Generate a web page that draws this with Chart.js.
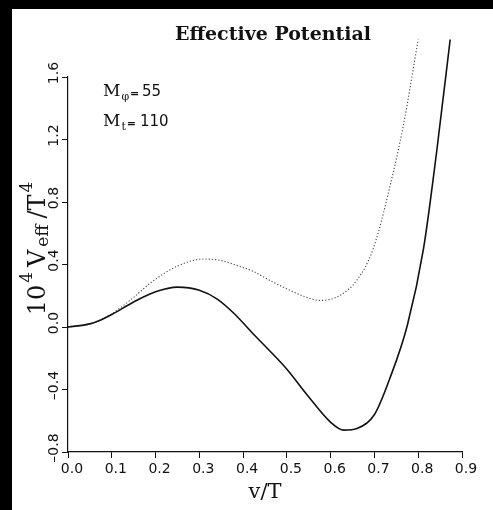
<!DOCTYPE html>
<html>
<head>
  <meta charset="utf-8">
  <title>Effective Potential</title>
  <script src="https://cdn.jsdelivr.net/npm/chart.js@4.4.0/dist/chart.umd.min.js"></script>
  <style>
    html, body { margin:0; padding:0; background:#000; width:493px; height:510px; overflow:hidden; }
    #ctn { position:absolute; left:12px; top:9px; width:481px; height:501px; background:#fff; }
  </style>
</head>
<body>
  <div id="ctn"><canvas id="chartEl"></canvas></div>

  <script>
    // v/T and 10^4 V_eff / T^4
    let solidX = [0, 0.05, 0.075, 0.1, 0.15, 0.2, 0.25, 0.3, 0.34, 0.38, 0.42, 0.46, 0.5, 0.545, 0.6, 0.63, 0.66, 0.7, 0.735, 0.775, 0.812, 0.842, 0.873];
    let solidY = [0, 0.02, 0.045, 0.08, 0.16, 0.225, 0.255, 0.235, 0.18, 0.085, -0.035, -0.15, -0.27, -0.43, -0.61, -0.66, -0.65, -0.56, -0.33, 0.01, 0.5, 1.12, 1.84];

    let dottedX = [0, 0.05, 0.1, 0.15, 0.19, 0.25, 0.31, 0.35, 0.39, 0.42, 0.47, 0.545, 0.576, 0.62, 0.66, 0.697, 0.743, 0.766, 0.8];
    let dottedY = [0, 0.02, 0.085, 0.19, 0.285, 0.39, 0.435, 0.425, 0.39, 0.36, 0.285, 0.19, 0.17, 0.2, 0.3, 0.5, 0.99, 1.29, 1.84];

    let xTicks = [0, 0.1, 0.2, 0.3, 0.4, 0.5, 0.6, 0.7, 0.8, 0.9];
    let yTicks = [-0.8, -0.4, 0, 0.4, 0.8, 1.2, 1.6];

    const serif = "'DejaVu Serif', serif";
    const sans = "'DejaVu Sans', sans-serif";

    // draws a run of text pieces left to right on one baseline
    function drawRich(ctx, parts, x, y) {
      let cx = x;
      for (let p of parts) {
        ctx.font = p.font;
        ctx.fillText(p.text, cx, y + (p.dy || 0));
        cx += ctx.measureText(p.text).width + (p.gap || 0);
      }
      return cx - x;
    }
    function richWidth(ctx, parts) {
      let w = 0;
      for (let p of parts) { ctx.font = p.font; w += ctx.measureText(p.text).width + (p.gap || 0); }
      return w;
    }

    let textPlugin = {
      id: 'textPlugin',
      afterDraw(chart) {
        let ctx = chart.ctx;
        let area = chart.chartArea;
        let yScale = chart.scales.y;
        ctx.save();
        ctx.fillStyle = '#111';

        // title
        ctx.textAlign = 'center';
        ctx.textBaseline = 'middle';
        ctx.font = `bold 19px ${serif}`;
        ctx.fillText('Effective Potential', area.left + 205, 26);

        // y tick labels, rotated like the original
        ctx.font = `14px ${sans}`;
        for (let t of yScale.ticks) {
          ctx.save();
          ctx.translate(area.left - 14, yScale.getPixelForValue(t.value) - 4);
          ctx.rotate(-Math.PI / 2);
          ctx.fillText(t.label, 0, 0);
          ctx.restore();
        }

        ctx.textAlign = 'left';
        ctx.textBaseline = 'alphabetic';

        // y axis title: 10^4 V_eff / T^4
        let big = `24px ${serif}`, small = `17px ${serif}`;
        let yTitle = [
          {text: '10', font: big, gap: 2},
          {text: '4', font: small, dy: -13, gap: 5},
          {text: 'V', font: big, gap: 3},
          {text: 'eff', font: small, dy: 3, gap: 6},
          {text: '/T', font: big, gap: 2},
          {text: '4', font: small, dy: -13}
        ];
        let w = richWidth(ctx, yTitle);
        ctx.save();
        ctx.translate(area.left - 23, (area.top + area.bottom) / 2 - 16);
        ctx.rotate(-Math.PI / 2);
        drawRich(ctx, yTitle, -w / 2, 0);
        ctx.restore();

        // mass labels
        let mx = area.left + 35;
        let lines = [
          {sub: 'φ', val: '55', y: area.top + 19},
          {sub: 't', val: '110', y: area.top + 49}
        ];
        for (let l of lines) {
          drawRich(ctx, [
            {text: 'M', font: `17px ${serif}`, gap: 1},
            {text: l.sub, font: `11px ${serif}`, dy: 4, gap: 1},
            {text: '=', font: `bold 11px ${sans}`, dy: 1}
          ], mx, l.y);
          ctx.font = `15px ${sans}`;
          ctx.fillText(l.val, mx + (l.val.length > 2 ? 37 : 39), l.y);
        }
        ctx.restore();
      }
    };

    let toPoints = (xs, ys) => xs.map((x, i) => ({x, y: ys[i]}));

    new Chart(chartEl, {
      type: 'line',
      plugins: [textPlugin],
      data: {
        datasets: [{
          data: toPoints(solidX, solidY),
          borderColor: '#111',
          borderWidth: 1.6,
          pointRadius: 0,
          cubicInterpolationMode: 'monotone',
          clip: false
        }, {
          data: toPoints(dottedX, dottedY),
          borderColor: '#444',
          borderWidth: 1.1,
          borderDash: [1.2, 2],
          pointRadius: 0,
          cubicInterpolationMode: 'monotone',
          clip: false
        }]
      },
      options: {
        responsive: true,
        maintainAspectRatio: false,
        animation: false,
        layout: { padding: { left: 42, right: 31, top: 68, bottom: 0 } },
        plugins: {
          legend: { display: false },
          tooltip: { enabled: false },
          title: { display: false }
        },
        scales: {
          x: {
            type: 'linear',
            min: 0,
            max: 0.9,
            afterBuildTicks: s => { s.ticks = xTicks.map(v => ({value: v})); },
            afterFit: s => { s.height = 58; s.paddingLeft = 0; s.paddingRight = 0; },
            grid: { display: true, drawOnChartArea: false, drawTicks: true, tickLength: 6, color: '#111' },
            border: { display: true, color: '#111', width: 1.2 },
            ticks: {
              autoSkip: false,
              maxRotation: 0,
              padding: 3,
              labelOffset: 4,
              color: '#111',
              font: { family: sans, size: 14 },
              callback: v => v.toFixed(1)
            },
            title: {
              display: true,
              text: 'v/T',
              color: '#111',
              font: { family: serif, size: 21 },
              padding: { top: 0, bottom: 5 }
            }
          },
          y: {
            min: -0.8,
            max: 1.6,
            afterBuildTicks: s => { s.ticks = yTicks.map(v => ({value: v})); },
            afterFit: s => { s.width = 14; s.paddingTop = 0; s.paddingBottom = 0; },
            grid: { display: true, drawOnChartArea: false, drawTicks: true, tickLength: 6, color: '#111' },
            border: { display: true, color: '#111', width: 1.2 },
            ticks: {
              display: false,
              autoSkip: false,
              callback: v => v.toFixed(1).replace('-', '–')
            }
          }
        }
      }
    });
  </script>
</body>
</html>
